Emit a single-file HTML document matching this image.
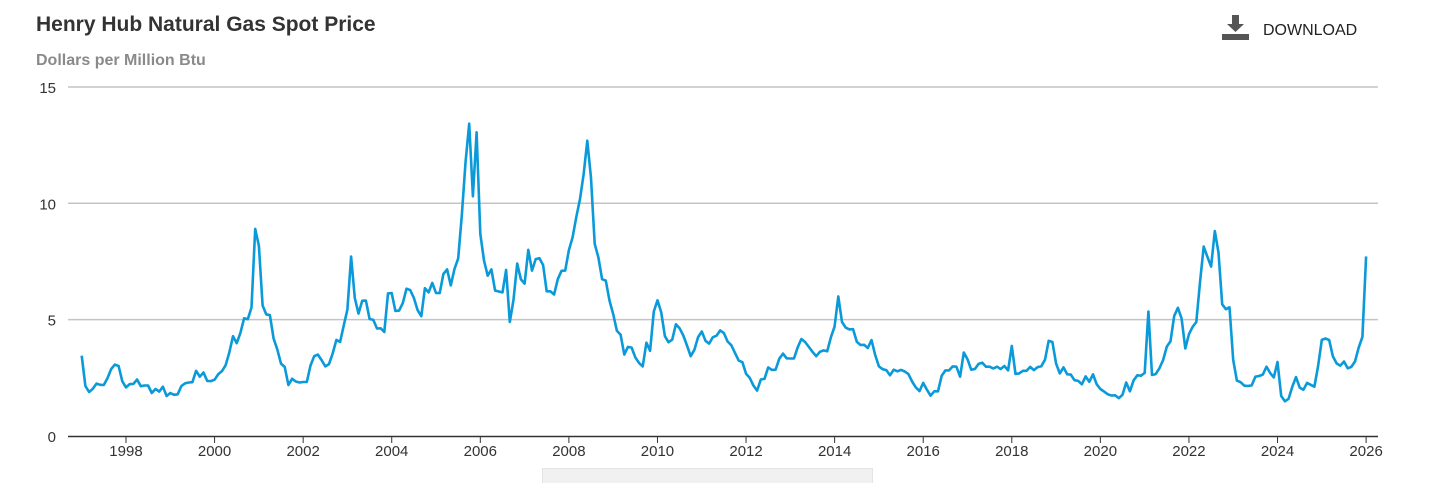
<!DOCTYPE html>
<html><head><meta charset="utf-8">
<style>
body{margin:0;background:#fff;width:1432px;height:482px;overflow:hidden;font-family:"Liberation Sans",Arial,sans-serif;position:relative}
.t{position:absolute;left:36px;top:13px;font-size:21px;font-weight:bold;color:#333}
.s{position:absolute;left:36px;top:52px;font-size:16px;font-weight:bold;color:#8a8a8a}
.d{position:absolute;left:1263px;top:22px;font-size:16px;color:#222}
.g{position:absolute;left:542px;top:468px;width:329px;height:14px;background:#f1f1f1;border:1px solid #e4e4e4;border-bottom:none}
</style></head><body>
<div class="t">Henry Hub Natural Gas Spot Price</div>
<div class="s">Dollars per Million Btu</div>
<svg style="position:absolute;left:1222px;top:15px" width="30" height="26" viewBox="0 0 30 26">
<rect x="10" y="0" width="7" height="9" fill="#555"/><polygon points="5,9 22,9 13.5,17" fill="#555"/>
<rect x="0" y="19" width="27" height="6" fill="#555"/></svg>
<div class="d">DOWNLOAD</div>
<svg id="c" style="position:absolute;left:0;top:0" width="1432" height="482"></svg>
<div class="g"></div>
<script>
var v=[3.45,2.15,1.89,2.03,2.25,2.20,2.19,2.49,2.88,3.07,3.01,2.35,
2.09,2.23,2.24,2.43,2.14,2.17,2.17,1.85,2.02,1.91,2.12,1.72,
1.85,1.77,1.79,2.15,2.26,2.30,2.31,2.80,2.55,2.73,2.37,2.36,
2.42,2.66,2.79,3.04,3.59,4.29,3.99,4.43,5.06,5.02,5.52,8.90,
8.17,5.61,5.23,5.19,4.19,3.72,3.11,2.97,2.19,2.46,2.34,2.30,
2.32,2.32,3.03,3.43,3.50,3.26,2.99,3.09,3.55,4.13,4.04,4.74,
5.43,7.71,5.93,5.26,5.81,5.82,5.03,4.99,4.62,4.63,4.47,6.13,
6.14,5.37,5.39,5.71,6.33,6.27,5.93,5.41,5.15,6.35,6.17,6.58,
6.15,6.14,6.96,7.16,6.47,7.18,7.63,9.53,11.75,13.42,10.30,13.05,
8.69,7.54,6.89,7.16,6.25,6.21,6.17,7.14,4.90,5.85,7.41,6.73,
6.55,8.00,7.11,7.60,7.64,7.35,6.22,6.22,6.08,6.74,7.10,7.11,
7.99,8.54,9.41,10.18,11.27,12.69,11.09,8.26,7.67,6.74,6.68,5.82,
5.24,4.52,4.35,3.50,3.83,3.80,3.38,3.14,2.99,4.01,3.66,5.35,
5.83,5.32,4.29,4.03,4.14,4.80,4.63,4.32,3.89,3.43,3.71,4.25,
4.49,4.09,3.97,4.24,4.31,4.54,4.42,4.06,3.90,3.57,3.24,3.17,
2.67,2.50,2.17,1.95,2.43,2.46,2.95,2.84,2.85,3.32,3.54,3.34,
3.33,3.33,3.81,4.17,4.04,3.83,3.62,3.43,3.62,3.68,3.64,4.24,
4.71,6.00,4.90,4.66,4.58,4.59,4.05,3.91,3.92,3.78,4.12,3.48,
2.99,2.87,2.83,2.61,2.85,2.78,2.84,2.77,2.66,2.34,2.09,1.93,
2.28,1.99,1.73,1.92,1.92,2.59,2.82,2.82,2.99,2.98,2.55,3.59,
3.30,2.85,2.88,3.10,3.15,2.98,2.98,2.90,2.98,2.88,3.01,2.82,
3.87,2.67,2.69,2.80,2.80,2.97,2.83,2.96,3.00,3.28,4.09,4.04,
3.11,2.69,2.95,2.65,2.64,2.40,2.37,2.22,2.56,2.33,2.65,2.22,
2.02,1.91,1.79,1.74,1.75,1.63,1.77,2.30,1.92,2.39,2.61,2.59,
2.71,5.35,2.62,2.66,2.91,3.26,3.84,4.07,5.16,5.51,5.05,3.76,
4.38,4.69,4.90,6.60,8.14,7.70,7.28,8.81,7.88,5.66,5.45,5.53,
3.27,2.38,2.31,2.16,2.15,2.18,2.55,2.58,2.64,2.98,2.71,2.52,
3.18,1.72,1.49,1.60,2.12,2.53,2.08,1.99,2.28,2.20,2.12,3.01,
4.13,4.19,4.12,3.42,3.12,3.02,3.20,2.91,2.97,3.20,3.80,4.26,7.72];
var X0=81.7,PY=44.29,Y0=436,PD=23.27;
function x(i){return X0+i*PY/12}function y(d){return Y0-d*PD}
var s='';
[5,10,15].forEach(function(d){s+='<line x1="68" x2="1378" y1="'+y(d)+'" y2="'+y(d)+'" stroke="#c4c4c4" stroke-width="1.5"/>';});
[0,5,10,15].forEach(function(d){s+='<text x="56" y="'+(y(d)+6)+'" text-anchor="end" font-size="15" fill="#333" font-family="Liberation Sans,Arial,sans-serif">'+d+'</text>';});
s+='<line x1="68" x2="1378" y1="436.5" y2="436.5" stroke="#333" stroke-width="1.5"/>';
for(var yr=1998;yr<=2026;yr+=2){var xx=X0+(yr-1997)*PY;s+='<line x1="'+xx+'" x2="'+xx+'" y1="437" y2="443" stroke="#333"/><text x="'+xx+'" y="456" text-anchor="middle" font-size="15" fill="#333" font-family="Liberation Sans,Arial,sans-serif">'+yr+'</text>';}
var p=v.map(function(d,i){return x(i).toFixed(1)+','+y(d).toFixed(1)}).join(' ');
s+='<polyline points="'+p+'" fill="none" stroke="#0a9ad9" stroke-width="2.6" stroke-linejoin="round"/>';
document.getElementById('c').innerHTML=s;
</script>
</body></html>
